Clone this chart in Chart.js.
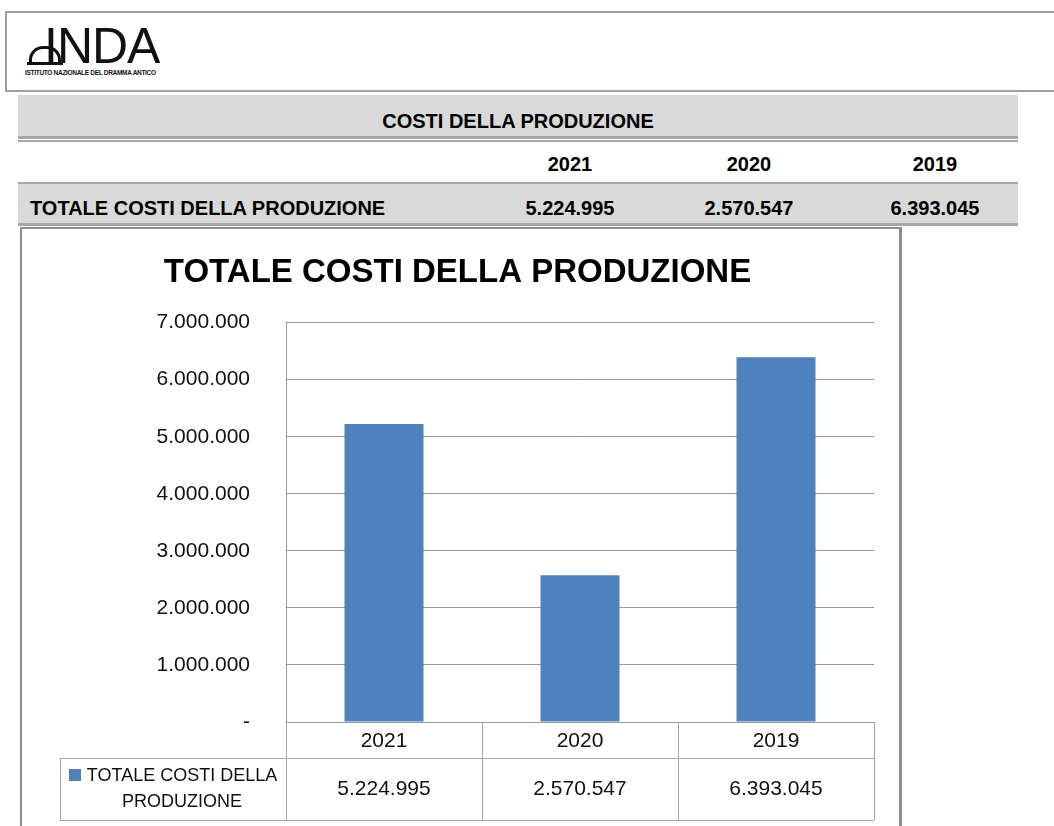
<!DOCTYPE html>
<html>
<head>
<meta charset="utf-8">
<title>Totale costi della produzione</title>
<script src="https://cdn.jsdelivr.net/npm/chart.js@4.4.1/dist/chart.umd.min.js"></script>
<style>
  body { margin: 0; width: 1054px; height: 826px; overflow: hidden; background: #fff;
         font-family: 'Liberation Sans', Arial, sans-serif; position: relative; }
  .abs { position: absolute; }
  #logoBox { left: 5px; top: 11px; width: 1060px; height: 77px; border: 2px solid #a0a0a0; }
  #logoText { left: 44px; top: 20px; font-size: 50px; line-height: 52px; color: #111; letter-spacing: -1px; }
  #logoIcon { left: 29px; top: 46px; width: 26px; height: 16px; border: 3px solid #111; border-bottom: 0;
              border-radius: 14px 14px 0 0; }
  #logoIcon2 { left: 27px; top: 62px; width: 36px; height: 3px; background: #111; }
  #logoSub { left: 25px; top: 69px; font-size: 6.5px; font-weight: bold; color: #111; letter-spacing: -0.3px; }
  .band { left: 18px; width: 1000px; background: #d9d9d9; }
  .rule { left: 18px; width: 1000px; height: 2px; background: #a6a6a6; }
  .hdr { font-size: 20px; line-height: 20px; font-weight: bold; color: #000; }
  #chartBox { left: 20px; top: 227px; width: 877px; height: 640px; border-top: 2px solid #8c8c8c;
              border-left: 2px solid #8c8c8c; border-right: 3px solid #8c8c8c; }
  #chart { position: absolute; left: 0; top: 0; }
</style>
</head>
<body>
<div class="abs" id="logoBox"></div>
<div class="abs" id="logoIcon"></div>
<div class="abs" id="logoIcon2"></div>
<div class="abs" id="logoText">INDA</div>
<div class="abs" id="logoSub">ISTITUTO NAZIONALE DEL DRAMMA ANTICO</div>

<div class="abs band" style="top:95px;height:41px;border-bottom:3px solid #a6a6a6;"></div>
<div class="abs rule" style="top:140px;"></div>
<div class="abs rule" style="top:182px;"></div>
<div class="abs band" style="top:184px;height:39px;border-bottom:3px solid #a6a6a6;"></div>

<div class="abs hdr" style="left:18px;width:1000px;top:111px;text-align:center;">COSTI DELLA PRODUZIONE</div>
<div id="hdrRows"></div>

<div class="abs" id="chartBox"></div>
<canvas id="chart" width="1054" height="826"></canvas>

<script>
// data
const years = ['2021', '2020', '2019'];
const costi = [5224995, 2570547, 6393045];
const seriesName = 'TOTALE COSTI DELLA PRODUZIONE';
const legendLines = ['TOTALE COSTI DELLA', 'PRODUZIONE'];
const yTicks = [0, 1000000, 2000000, 3000000, 4000000, 5000000, 6000000, 7000000];

const FONT = "'Liberation Sans', Arial, sans-serif";
const BAR = '#4F81BD';

function fmt(v) {
    return String(v).replace(/\B(?=(\d{3})+(?!\d))/g, '.');
}

// header table (years + totals)
const colCenters = [{ left: 483, w: 174 }, { left: 661, w: 176 }, { left: 852, w: 166 }];
let html = `<div class="abs hdr" style="left:30px;top:198px;">${seriesName}</div>`;
years.forEach((y, i) => {
    const c = colCenters[i];
    html += `<div class="abs hdr" style="left:${c.left}px;width:${c.w}px;top:154px;text-align:center;">${y}</div>`;
    html += `<div class="abs hdr" style="left:${c.left}px;width:${c.w}px;top:198px;text-align:center;">${fmt(costi[i])}</div>`;
});
document.getElementById('hdrRows').innerHTML = html;

// data table under the x axis
const dataTablePlugin = {
    id: 'dataTable',
    afterDraw(chart) {
        const { ctx, chartArea } = chart;
        const x = chart.scales.x;
        const half = (x.getPixelForValue(1) - x.getPixelForValue(0)) / 2;
        const top = chartArea.bottom;
        const mid = top + 36;
        const bot = top + 98;
        const legendLeft = chartArea.left - 226;

        ctx.save();
        ctx.strokeStyle = '#a6a6a6';
        ctx.lineWidth = 1;
        ctx.beginPath();
        for (let i = 0; i <= years.length; i++) {
            const px = Math.round(x.getPixelForValue(i) - half) + 0.5;
            ctx.moveTo(px, top);
            ctx.lineTo(px, bot);
        }
        ctx.moveTo(legendLeft + 0.5, mid);
        ctx.lineTo(legendLeft + 0.5, bot);
        ctx.moveTo(legendLeft, mid + 0.5);
        ctx.lineTo(chartArea.right, mid + 0.5);
        ctx.moveTo(legendLeft, bot + 0.5);
        ctx.lineTo(chartArea.right, bot + 0.5);
        ctx.stroke();

        ctx.fillStyle = '#111';
        ctx.textAlign = 'center';
        ctx.textBaseline = 'middle';
        ctx.font = `21px ${FONT}`;
        costi.forEach((v, i) => {
            ctx.fillText(fmt(v), x.getPixelForValue(i), (mid + bot) / 2);
        });

        // legend key + wrapped series name
        ctx.fillStyle = BAR;
        ctx.fillRect(legendLeft + 9, mid + 11, 12, 12);
        ctx.fillStyle = '#111';
        ctx.font = `18px ${FONT}`;
        ctx.fillText(legendLines[0], legendLeft + 122, mid + 18);
        ctx.fillText(legendLines[1], legendLeft + 122, mid + 44);
        ctx.restore();
    }
};

new Chart(document.getElementById('chart'), {
    type: 'bar',
    data: {
        labels: years,
        datasets: [{
            label: seriesName,
            data: costi,
            backgroundColor: BAR,
            borderWidth: 0,
            categoryPercentage: 1,
            barPercentage: 0.403
        }]
    },
    options: {
        responsive: false,
        animation: false,
        layout: { padding: { left: 41, right: 180, top: 0, bottom: 0 } },
        plugins: {
            legend: { display: false },
            tooltip: { enabled: false },
            title: {
                display: true,
                text: seriesName,
                color: '#000',
                font: { family: FONT, size: 33, weight: 'bold', lineHeight: 1.2 },
                padding: { top: 253, bottom: 30 }
            }
        },
        scales: {
            x: {
                grid: { display: false, drawTicks: false },
                border: { display: true, color: '#9a9a9a' },
                ticks: { color: '#111', font: { family: FONT, size: 21 }, padding: 7 },
                afterFit(scale) { scale.height = 104; }
            },
            y: {
                min: 0,
                max: 7000000,
                afterBuildTicks(scale) { scale.ticks = yTicks.map(v => ({ value: v })); },
                grid: { color: '#9a9a9a', drawTicks: false },
                border: { display: true, color: '#9a9a9a' },
                ticks: {
                    color: '#111',
                    font: { family: FONT, size: 21 },
                    padding: 36,
                    callback: v => v === 0 ? '-' : fmt(v)
                },
                afterFit(scale) { scale.width = 245; }
            }
        }
    },
    plugins: [dataTablePlugin]
});
</script>
</body>
</html>
